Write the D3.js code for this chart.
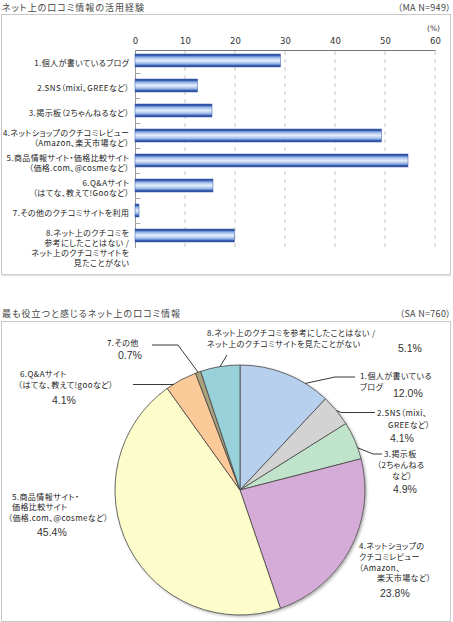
<!DOCTYPE html>
<html><head><meta charset="utf-8">
<script src="https://cdn.jsdelivr.net/npm/d3@7/dist/d3.min.js"></script>
<style>
body{margin:0;background:#fff}
svg{display:block}
.jp{font-family:'Noto Sans CJK JP','Noto Sans',sans-serif;font-feature-settings:"palt" 1;}
</style>
</head><body>
<svg id="c" width="453" height="622"></svg>
<script>
// ---------- DATA ----------
const barTitle = "ネット上の口コミ情報の活用経験";
const barNote = "（MA N=949）";
const barCategories = [
  ["1.個人が書いているブログ"],
  ["2.SNS（mixi、GREEなど）"],
  ["3.掲示板（2ちゃんねるなど）"],
  ["4.ネットショップのクチコミレビュー", "（Amazon、楽天市場など）"],
  ["5.商品情報サイト・価格比較サイト", "（価格.com、@cosmeなど）"],
  ["6.Q&Aサイト", "（はてな、教えて!Gooなど）"],
  ["7.その他のクチコミサイトを利用"],
  ["8.ネット上のクチコミを", "参考にしたことはない /", "ネット上のクチコミサイトを", "見たことがない"]
];
const barValues = [29.1, 12.5, 15.4, 49.3, 54.6, 15.6, 0.8, 19.9];
const barTicks = [0, 10, 20, 30, 40, 50, 60];
const barUnit = "(%)";

const pieTitle = "最も役立つと感じるネット上の口コミ情報";
const pieNote = "（SA N=760）";
const pieCategories = [
  ["1.個人が書いている", "ブログ"],
  ["2.SNS（mixi、", "GREEなど）"],
  ["3.掲示板", "（2ちゃんねる", "など）"],
  ["4.ネットショップの", "クチコミレビュー", "（Amazon、", "楽天市場など）"],
  ["5.商品情報サイト・", "価格比較サイト", "（価格.com、@cosmeなど）"],
  ["6.Q&Aサイト", "（はてな、教えて!gooなど）"],
  ["7.その他"],
  ["8.ネット上のクチコミを参考にしたことはない /", "ネット上のクチコミサイトを見たことがない"]
];
const pieValues = [12.0, 4.1, 4.9, 23.8, 45.4, 4.1, 0.7, 5.1];
const pieColors = ["#b7d0ee", "#d3d3d3", "#c0e3cb", "#d5abd7", "#fdfdcc", "#fcc999", "#a9a27c", "#99d1da"];

// ---------- LAYOUT (annotation positions) ----------
const pieLabelLayout = [
  {frac:0.73, leader:[[335,377],[355,377]], lines:[[360,379],[360,389.5]], pct:[393,397]},
  {frac:0.5,  leader:[[341,412.5],[375,412.5]], lines:[[377,416],[388,428]], pct:[390,441.5]},
  {frac:0.7,  leader:[[373,454],[382,454]], lines:[[384,457],[377,468],[392,479]], pct:[393,493]},
  {frac:null, leader:null, lines:[[359,549],[359,559.5],[359,570.5],[377,581]], pct:[380,596.5]},
  {frac:null, leader:null, lines:[[12,499.5],[12,510],[8,521]], pct:[37,536]},
  {frac:0.24, leader:[[173,384.5],[133,384.5]], lines:[[20,377],[18,388]], pct:[52,404]},
  {frac:0.5,  leader:[[178,345],[152,345]], lines:[[107,346]], pct:[118,359]},
  {frac:0.5,  leader:[[227,355]], lines:[[207,336],[207,346.5]], pct:[398,352]}
];

const svg = d3.select("#c");
const defs = svg.append("defs");
const grad = defs.append("linearGradient").attr("id","barGrad")
  .attr("x1",0).attr("y1",0).attr("x2",0).attr("y2",1);
[[0,"#2a4c9a"],[0.12,"#3a5eae"],[0.22,"#86a8e0"],[0.36,"#bcd2f3"],[0.5,"#e3edfb"],
 [0.64,"#bcd2f3"],[0.78,"#86a8e0"],[0.88,"#3a5eae"],[1,"#2a4c9a"]]
 .forEach(([o,c])=>grad.append("stop").attr("offset",o).attr("stop-color",c));
const sh = defs.append("filter").attr("id","shadow").attr("x","-10%").attr("y","-10%").attr("width","125%").attr("height","125%");
sh.append("feDropShadow").attr("dx",1.5).attr("dy",1.5).attr("stdDeviation",1.8)
  .attr("flood-color","#000").attr("flood-opacity",0.35);

const labelSize = 8, labelSpacing = 0.4;

// ---------- BAR PANEL ----------
svg.append("text").attr("class","jp").attr("x",2).attr("y",10.5)
  .attr("font-size",9).attr("letter-spacing",1).attr("fill","#444").text(barTitle);
svg.append("text").attr("class","jp").attr("x",451).attr("y",10.5).attr("text-anchor","end")
  .attr("font-size",9).attr("letter-spacing",0.3).attr("fill","#444").text(barNote);
svg.append("rect").attr("x",1.5).attr("y",14.5).attr("width",449).attr("height",260)
  .attr("fill","#fff").attr("stroke","#c8c8c8");
svg.append("line").attr("x1",2).attr("x2",451).attr("y1",275.5).attr("y2",275.5)
  .attr("stroke","#e2e2e2").attr("stroke-width",1.5);

const x = d3.scaleLinear().domain([0,60]).range([135,435]);
const y = d3.scaleBand().domain(d3.range(barValues.length)).range([48,248])
  .paddingInner(0.48).paddingOuter(0.24);

// grid
svg.append("g").selectAll("line").data(barTicks.slice(1)).join("line")
  .attr("x1",d=>x(d)).attr("x2",d=>x(d)).attr("y1",51).attr("y2",248)
  .attr("stroke","#c6c6c6").attr("stroke-dasharray","4,4");

// top axis
const ax = svg.append("g").attr("transform","translate(0,50)")
  .call(d3.axisTop(x).tickValues(barTicks).tickSize(0).tickPadding(6.5));
ax.select(".domain").attr("stroke","#777");
ax.selectAll("text").attr("font-family","'DejaVu Sans',sans-serif").attr("font-size",8.5).attr("fill","#333");
svg.append("text").attr("x",440).attr("y",31).attr("text-anchor","end")
  .attr("font-family","'DejaVu Sans',sans-serif").attr("font-size",7.5).attr("fill","#333").text(barUnit);

// left axis line + minor ticks at band boundaries
svg.append("line").attr("x1",135.5).attr("x2",135.5).attr("y1",50).attr("y2",248).attr("stroke","#999");
svg.append("g").selectAll("line").data(d3.range(1,barValues.length)).join("line")
  .attr("x1",135.5).attr("x2",140.5)
  .attr("y1",i=>y.range()[0]+i*y.step()+0.5).attr("y2",i=>y.range()[0]+i*y.step()+0.5)
  .attr("stroke","#aaa");

// bars
svg.append("g").selectAll("rect").data(barValues).join("rect")
  .attr("x",x(0)).attr("y",(d,i)=>y(i)).attr("width",d=>x(d)-x(0)).attr("height",y.bandwidth())
  .attr("fill","url(#barGrad)").attr("stroke","#3a5aa6").attr("stroke-width",0.5);

// bar labels
const lh = 10;
barCategories.forEach((lines,i)=>{
  const c = y(i)+y.bandwidth()/2;
  const y0 = lines.length>1 ? c : c+5;
  const t = svg.append("text").attr("class","jp").attr("text-anchor","end")
    .attr("font-size",labelSize).attr("letter-spacing",labelSpacing).attr("fill","#222");
  lines.forEach((s,k)=>t.append("tspan").attr("x",129.4).attr("y",y0+k*lh).text(s));
});

// ---------- PIE PANEL ----------
svg.append("text").attr("class","jp").attr("x",2).attr("y",316.5)
  .attr("font-size",9).attr("letter-spacing",1).attr("fill","#444").text(pieTitle);
svg.append("text").attr("class","jp").attr("x",451).attr("y",316.5).attr("text-anchor","end")
  .attr("font-size",9).attr("letter-spacing",0.3).attr("fill","#444").text(pieNote);
svg.append("rect").attr("x",1.5).attr("y",321.5).attr("width",449).attr("height",300)
  .attr("fill","#fff").attr("stroke","#c8c8c8");

const cx = 240, cy = 490, r = 125;
const pg = svg.append("g").attr("transform",`translate(${cx},${cy})`);
const arcs = d3.pie().sort(null).value(d=>d)(pieValues);
const arc = d3.arc().innerRadius(0).outerRadius(r);
pg.append("circle").attr("r",r).attr("fill","#fff").attr("filter","url(#shadow)");
pg.selectAll("path").data(arcs).join("path")
  .attr("d",arc).attr("fill",(d,i)=>pieColors[i])
  .attr("stroke","#444").attr("stroke-width",0.8).attr("stroke-linejoin","round");

// leaders & labels
pieLabelLayout.forEach((L,i)=>{
  const a = arcs[i];
  if (L.leader) {
    const ang = a.startAngle + L.frac*(a.endAngle-a.startAngle);
    const p0 = [cx + r*Math.sin(ang), cy - r*Math.cos(ang)];
    svg.append("path").attr("d", d3.line()([p0, ...L.leader]))
      .attr("fill","none").attr("stroke","#222").attr("stroke-width",0.9);
  }
  pieCategories[i].forEach((s,k)=>{
    svg.append("text").attr("class","jp").attr("x",L.lines[k][0]).attr("y",L.lines[k][1])
      .attr("font-size",labelSize).attr("letter-spacing",labelSpacing).attr("fill","#222").text(s);
  });
  svg.append("text").attr("x",L.pct[0]).attr("y",L.pct[1])
    .attr("font-family","'Liberation Sans',Arial,sans-serif").attr("font-size",10.5)
    .attr("fill","#333").text(pieValues[i].toFixed(1)+"%");
});
</script>
</body></html>
